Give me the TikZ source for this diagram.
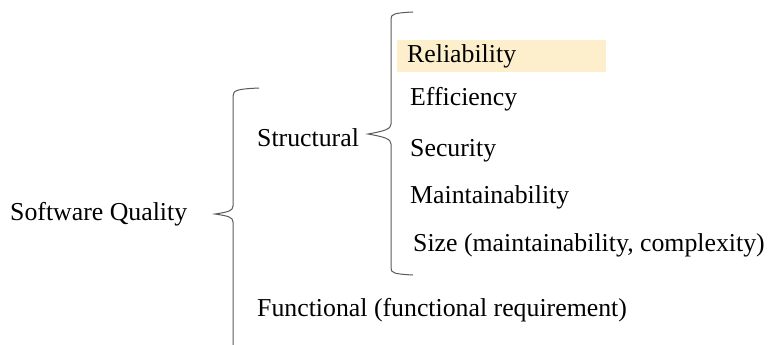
\documentclass[tikz,border=0pt]{standalone}
\usepackage{fontspec}
\setmainfont{Liberation Serif}
\definecolor{hl}{HTML}{FDEFCC}
\definecolor{brc}{HTML}{5A5A5A}
\begin{document}
\begin{tikzpicture}[x=1pt,y=-1pt,
  lbl/.style={anchor=west,inner sep=0pt,font=\fontsize{25.8}{30}\selectfont},
  brace/.style={draw=brc,line width=1pt}]
\useasboundingbox (0,0) rectangle (771,345);
\fill[hl] (397,40) rectangle (606,72);
\node[lbl] (sq) at (10,214) {Software Quality};
\node[lbl] (st) at (257,138) {Structural};
\node[lbl] (fn) at (257,310) {Functional (functional requirement)};
\node[lbl] (re) at (407,56) {Reliability};
\node[lbl] (ef) at (410,99) {Efficiency};
\node[lbl] (se) at (410,151) {Security};
\node[lbl] (ma) at (410,197) {Maintainability};
\node[lbl] (sz) at (413,245) {Size (maintainability, complexity)};
% big brace
\draw[brace] (259,88) .. controls (238,89) and (233,90) .. (233,96)
  -- (233,206) .. controls (233,211) and (228,212) .. (215,214)
  .. controls (228,216) and (233,217) .. (233,222) -- (233,345);
% structural brace
\draw[brace] (413,12) .. controls (394,13) and (391,14) .. (391,19)
  -- (391,124) .. controls (391,129) and (385,131) .. (368,134)
  .. controls (385,137) and (391,139) .. (391,144)
  -- (391,268) .. controls (391,273) and (394,274) .. (413,275);
\end{tikzpicture}
\end{document}
